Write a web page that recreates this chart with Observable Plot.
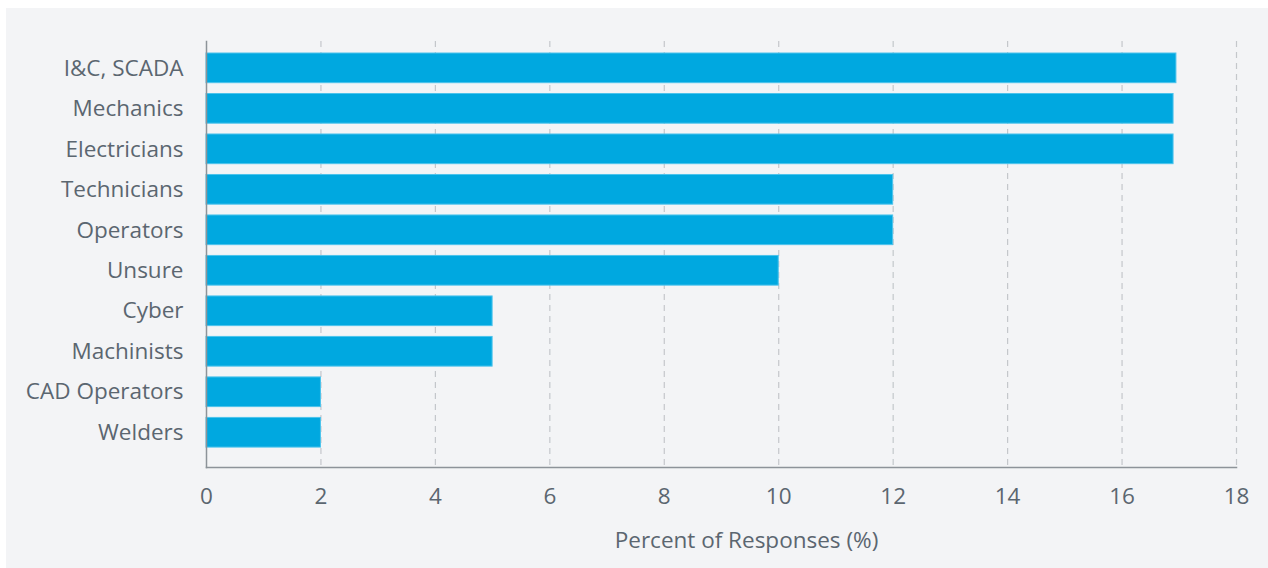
<!DOCTYPE html>
<html>
<head>
<meta charset="utf-8">
<script src="https://cdn.jsdelivr.net/npm/d3@7"></script>
<script src="https://cdn.jsdelivr.net/npm/@observablehq/plot@0.6"></script>
<style>
  html, body { margin: 0; padding: 0; background: #ffffff; }
  #chart { position: absolute; left: 6px; top: 8px; width: 1262px; height: 560px; background: #f3f4f6; }
  #chart svg { display: block; background: #f3f4f6; }
</style>
</head>
<body>
<div id="chart"></div>
<script>
const categories = ["I&C, SCADA", "Mechanics", "Electricians", "Technicians", "Operators", "Unsure", "Cyber", "Machinists", "CAD Operators", "Welders"];
const values = [16.95, 16.9, 16.9, 12, 12, 10, 5, 5, 2, 2];
const xTicks = [0, 2, 4, 6, 8, 10, 12, 14, 16, 18];
const gridTicks = [2, 4, 6, 8, 10, 12, 14, 16, 18];
const xTitle = "Percent of Responses (%)";

const data = categories.map((c, i) => ({category: c, value: values[i]}));

const textColor = "#5b6670";
const fs = 22.5;
const chart = Plot.plot({
  width: 1262,
  height: 560,
  marginLeft: 200,
  marginRight: 32,
  marginTop: 33,
  marginBottom: 101,
  style: {background: "#f3f4f6", fontFamily: "'Open Sans', 'Noto Sans', sans-serif", fontSize: fs + "px", color: textColor},
  x: {domain: [0, 18], ticks: xTicks},
  y: {domain: categories, padding: 0.267, range: [34.2, 449.9], round: false},
  marks: [
    Plot.gridX(gridTicks, {stroke: "#c4c7cb", strokeOpacity: 1, strokeDasharray: "6,5", strokeWidth: 1.2}),
    Plot.barX(data, {x: "value", y: "category", fill: "#00a8e0", stroke: "#4cc3ec", strokeWidth: 1}),
    Plot.frame({anchor: "left", stroke: "#8d9399", strokeWidth: 1.5}),
    Plot.frame({anchor: "bottom", stroke: "#8d9399", strokeWidth: 1.5}),
    Plot.axisX(xTicks, {tickSize: 0, tickPadding: 21, label: null, fill: textColor, fontSize: fs}),
    Plot.axisY({tickSize: 0, tickPadding: 23, label: null, fill: textColor, fontSize: fs}),
    Plot.text([xTitle], {frameAnchor: "bottom", dx: 25, dy: 80, fill: textColor, fontSize: fs, text: d => d})
  ]
});
document.getElementById("chart").appendChild(chart);
</script>
</body>
</html>
